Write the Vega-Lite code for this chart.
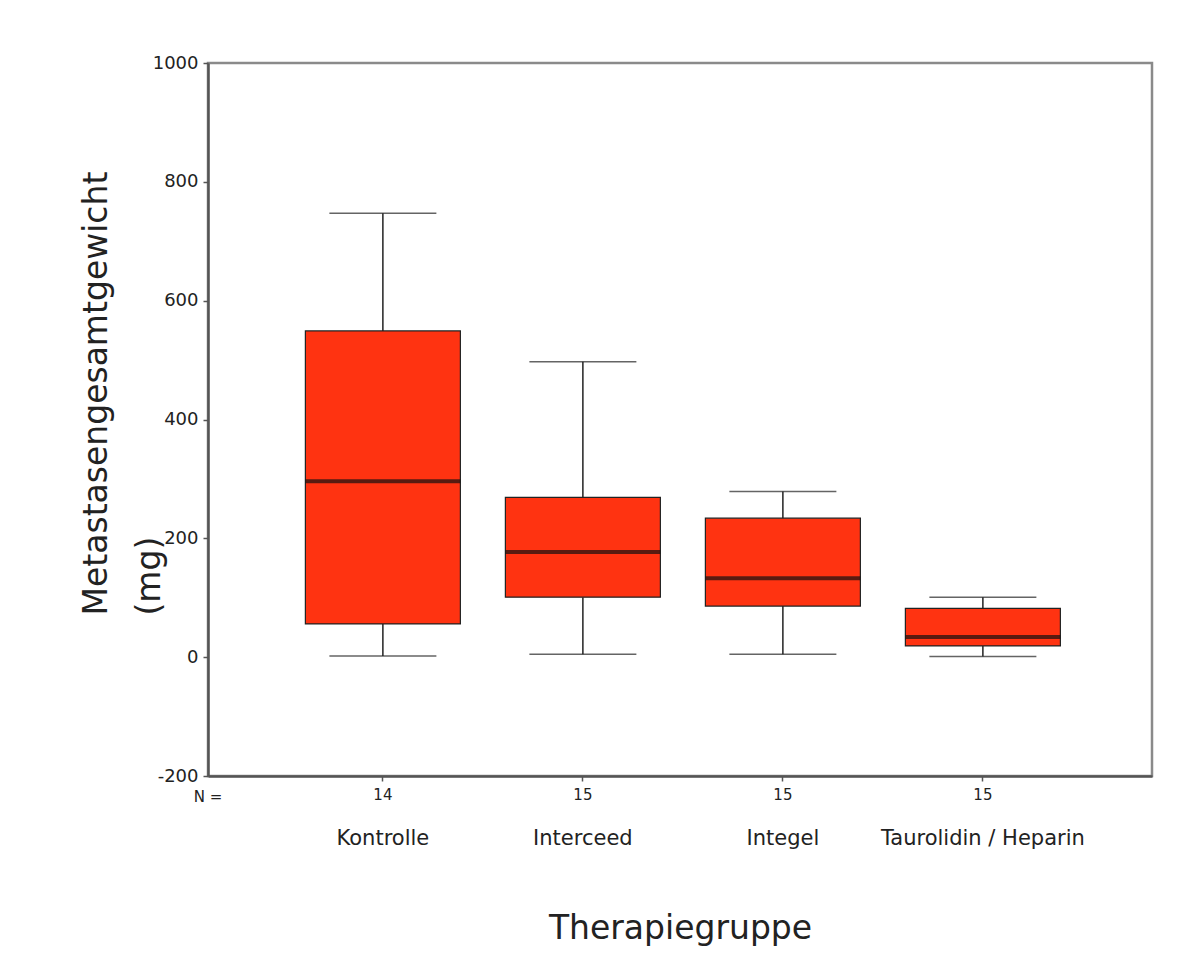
{
  "$schema": "https://vega.github.io/schema/vega-lite/v6.json",
  "width": 944,
  "height": 713,
  "autosize": {"type": "none"},
  "padding": {"left": 208, "top": 63, "right": 40, "bottom": 185},
  "background": "white",
  "config": {
    "font": "DejaVu Sans",
    "view": {"stroke": "#8a8a8a", "strokeWidth": 2.5},
    "axis": {"grid": false, "domainColor": "#555555", "domainWidth": 2.5, "tickColor": "#555555", "tickWidth": 1.5, "labelColor": "#222222", "titleColor": "#222222", "titleFontWeight": "normal", "labelFont": "DejaVu Sans", "titleFont": "DejaVu Sans"}
  },
  "data": {
    "values": [
      {"group": "Kontrolle", "n": "14", "lower": 2, "q1": 56, "median": 296, "q3": 549, "upper": 747},
      {"group": "Interceed", "n": "15", "lower": 5, "q1": 101, "median": 177, "q3": 269, "upper": 497},
      {"group": "Integel", "n": "15", "lower": 5, "q1": 86, "median": 133, "q3": 234, "upper": 279},
      {"group": "Taurolidin / Heparin", "n": "15", "lower": 1, "q1": 19, "median": 34, "q3": 82, "upper": 101}
    ]
  },
  "encoding": {
    "x": {
      "field": "group",
      "type": "nominal",
      "sort": null,
      "scale": {"type": "band", "paddingInner": 0, "paddingOuter": 0.36, "align": 0.52},
      "axis": {
        "title": "Therapiegruppe",
        "titleFontSize": 33,
        "titlePadding": 64,
        "labelAngle": 0,
        "labelFontSize": 21,
        "labelPadding": 46,
        "labelBaseline": "top",
        "labelLimit": 0,
        "tickSize": 5
      }
    }
  },
  "layer": [
    {
      "mark": {"type": "rule", "color": "#222222", "strokeWidth": 1.5},
      "encoding": {
        "y": {"field": "lower", "type": "quantitative", "scale": {"domain": [-200, 1000], "nice": false, "zero": false},
          "axis": {"title": ["Metastasengesamtgewicht", "(mg)"], "titleFontSize": 33, "titleAlign": "left", "titleBaseline": "bottom", "titleX": -95, "titleY": 552, "titleLineHeight": 53, "values": [-200, 0, 200, 400, 600, 800, 1000], "labelExpr": "'' + datum.value", "labelFontSize": 18, "tickSize": 5, "labelPadding": 5}},
        "y2": {"field": "q1"}
      }
    },
    {
      "mark": {"type": "rule", "color": "#222222", "strokeWidth": 1.5},
      "encoding": {
        "y": {"field": "q3", "type": "quantitative"},
        "y2": {"field": "upper"}
      }
    },
    {
      "mark": {"type": "tick", "color": "#222222", "thickness": 1.5, "size": 107},
      "encoding": {"y": {"field": "lower", "type": "quantitative"}}
    },
    {
      "mark": {"type": "tick", "color": "#222222", "thickness": 1.5, "size": 107},
      "encoding": {"y": {"field": "upper", "type": "quantitative"}}
    },
    {
      "mark": {"type": "bar", "color": "#ff3311", "stroke": "#222222", "strokeWidth": 1.2, "width": {"band": 0.775}},
      "encoding": {
        "y": {"field": "q1", "type": "quantitative"},
        "y2": {"field": "q3"}
      }
    },
    {
      "mark": {"type": "tick", "color": "#111111", "thickness": 4, "size": 155},
      "encoding": {"y": {"field": "median", "type": "quantitative"}}
    },
    {
      "mark": {"type": "text", "fontSize": 15, "color": "#222222", "baseline": "middle", "align": "center", "dy": 19},
      "encoding": {
        "y": {"datum": -200, "type": "quantitative"},
        "text": {"field": "n"}
      }
    },
    {
      "data": {"values": [{"label": "N ="}]},
      "mark": {"type": "text", "fontSize": 15, "color": "#222222", "baseline": "middle", "align": "center", "dy": 21},
      "encoding": {
        "x": {"value": 0},
        "y": {"datum": -200, "type": "quantitative"},
        "text": {"field": "label"}
      }
    }
  ]
}
